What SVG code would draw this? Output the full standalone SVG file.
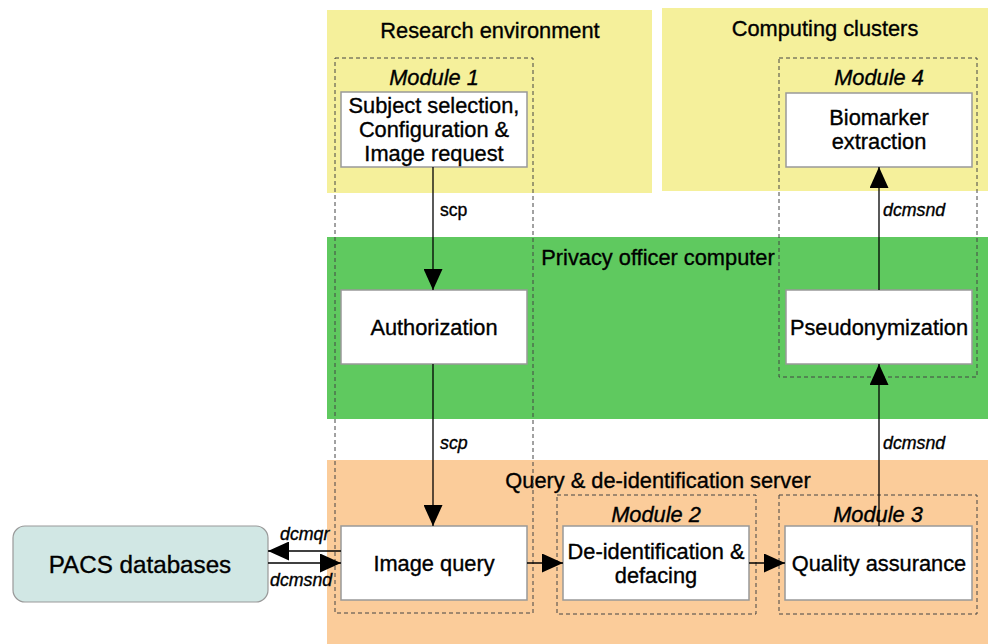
<svg xmlns="http://www.w3.org/2000/svg" width="988" height="644" viewBox="0 0 988 644">
<defs>
<marker id="ah" markerWidth="21" markerHeight="19" refX="21" refY="9.5" orient="auto" markerUnits="userSpaceOnUse">
<path d="M0,0 L21,9.5 L0,19 Z" fill="#000"/>
</marker>
<style>
text{font-family:"Liberation Sans",Arial,sans-serif;fill:#000;stroke:#000;stroke-width:0.35}
.zt{font-size:21.8px;text-anchor:middle}
.nt{font-size:21.8px;text-anchor:middle}
.mt{font-size:21.8px;font-style:italic;text-anchor:middle}
.lb{font-size:17.8px;font-style:italic}
.box{fill:#fff;stroke:#999;stroke-width:1.5}
.mod{fill:none;stroke:#444;stroke-width:1;stroke-dasharray:4,3}
.cn{stroke:#000;stroke-width:1.3;fill:none}
</style>
</defs>
<rect width="988" height="644" fill="#fff"/>
<g id="zones">
<rect x="327" y="10" width="325" height="183" fill="#f5f09b"/>
<rect x="662" y="8" width="326" height="183" fill="#f5f09b"/>
<rect x="327" y="237" width="661" height="182" fill="#5fc95f"/>
<rect x="327" y="460" width="661" height="184" fill="#fbcc9a"/>
<text class="zt" x="490" y="38">Research environment</text>
<text class="zt" x="825" y="36">Computing clusters</text>
<text class="zt" x="658" y="265">Privacy officer computer</text>
<text class="zt" x="658" y="488">Query &amp; de-identification server</text>
</g>
<g id="modules">
<rect class="mod" x="335" y="58" width="198" height="555"/>
<text class="mt" x="434" y="85">Module 1</text>
<rect class="mod" x="779" y="58" width="198" height="319"/>
<text class="mt" x="879" y="85">Module 4</text>
<rect class="mod" x="557" y="495" width="199" height="119"/>
<text class="mt" x="656" y="522">Module 2</text>
<rect class="mod" x="779" y="495" width="198" height="119"/>
<text class="mt" x="878" y="522">Module 3</text>
</g>
<g id="pacs">
<rect x="13" y="526" width="255" height="76" rx="12" fill="#d1e7e4" stroke="#999" stroke-width="1.2"/>
<text x="140" y="573" style="font-size:24.2px;text-anchor:middle">PACS databases</text>
</g>
<g id="subject">
<rect class="box" x="341" y="92" width="186" height="75"/>
<text class="nt" x="434" y="113">Subject selection,</text>
<text class="nt" x="434" y="137">Configuration &amp;</text>
<text class="nt" x="434" y="161">Image request</text>
</g>
<g id="authorization">
<rect class="box" x="341" y="290" width="186" height="74"/>
<text class="nt" x="434" y="335">Authorization</text>
</g>
<g id="imagequery">
<rect class="box" x="341" y="526" width="186" height="74"/>
<text class="nt" x="434" y="571">Image query</text>
</g>
<g id="deid">
<rect class="box" x="563" y="526" width="186" height="74"/>
<text class="nt" x="656" y="559">De-identification &amp;</text>
<text class="nt" x="656" y="583">defacing</text>
</g>
<g id="qa">
<rect class="box" x="785" y="526" width="187" height="74"/>
<text class="nt" x="879" y="571">Quality assurance</text>
</g>
<g id="pseudo">
<rect class="box" x="786" y="290" width="186" height="74"/>
<text class="nt" x="879" y="335">Pseudonymization</text>
</g>
<g id="biomarker">
<rect class="box" x="786" y="93" width="186" height="74"/>
<text class="nt" x="879" y="125">Biomarker</text>
<text class="nt" x="879" y="149">extraction</text>
</g>
<g id="connectors">
<line class="cn" x1="433" y1="167" x2="433" y2="290" marker-end="url(#ah)"/>
<line class="cn" x1="433" y1="364" x2="433" y2="526" marker-end="url(#ah)"/>
<line class="cn" x1="527" y1="563" x2="563" y2="563" marker-end="url(#ah)"/>
<line class="cn" x1="749" y1="563" x2="785" y2="563" marker-end="url(#ah)"/>
<line class="cn" x1="879" y1="526" x2="879" y2="364" marker-end="url(#ah)"/>
<line class="cn" x1="879" y1="290" x2="879" y2="167" marker-end="url(#ah)"/>
<line class="cn" x1="341" y1="551" x2="268" y2="551" marker-end="url(#ah)"/>
<line class="cn" x1="268" y1="563" x2="341" y2="563" marker-end="url(#ah)"/>
<text x="440" y="216" style="font-size:17.6px">scp</text>
<text class="lb" x="440" y="449">scp</text>
<text class="lb" x="883" y="216">dcmsnd</text>
<text class="lb" x="883" y="449">dcmsnd</text>
<text class="lb" x="280" y="540">dcmqr</text>
<text class="lb" x="270" y="586">dcmsnd</text>
</g>
</svg>
